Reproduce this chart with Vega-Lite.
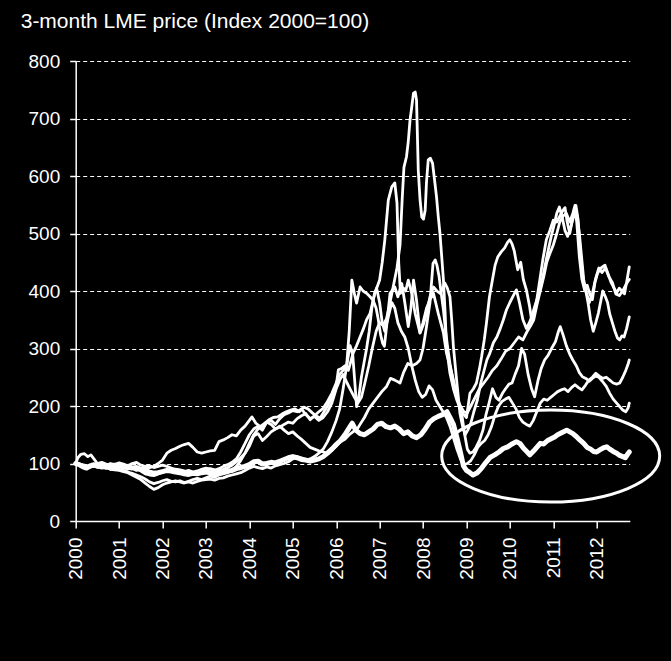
{"$schema":"https://vega.github.io/schema/vega-lite/v6.json","width":554,"height":460,"autosize":"none","padding":{"left":75.7,"top":61,"right":41.3,"bottom":140},"background":"black","config":{"view":{"stroke":null},"font":"Liberation Sans"},
"title":{"text":"3-month LME price (Index 2000=100)","anchor":"start","frame":"group","dx":-55,"offset":20,"fontSize":21,"fontWeight":"normal","font":"Liberation Sans","color":"white"},
"datasets":{
"ell":[{"t":2010.94,"v":113}],
"lines":[
{"m":"Al","t":2000.0,"v":100},{"m":"Al","t":2000.08,"v":98},{"m":"Al","t":2000.17,"v":94},{"m":"Al","t":2000.25,"v":92},{"m":"Al","t":2000.33,"v":96},{"m":"Al","t":2000.42,"v":98},{"m":"Al","t":2000.5,"v":95},{"m":"Al","t":2000.6,"v":97},{"m":"Al","t":2000.7,"v":94},{"m":"Al","t":2000.8,"v":96},{"m":"Al","t":2000.9,"v":97},{"m":"Al","t":2001.0,"v":96},{"m":"Al","t":2001.1,"v":94},{"m":"Al","t":2001.2,"v":95},{"m":"Al","t":2001.3,"v":92},{"m":"Al","t":2001.4,"v":93},{"m":"Al","t":2001.5,"v":90},{"m":"Al","t":2001.6,"v":88},{"m":"Al","t":2001.7,"v":85},{"m":"Al","t":2001.8,"v":83},{"m":"Al","t":2001.9,"v":84},{"m":"Al","t":2002.0,"v":86},{"m":"Al","t":2002.1,"v":88},{"m":"Al","t":2002.2,"v":87},{"m":"Al","t":2002.3,"v":85},{"m":"Al","t":2002.4,"v":84},{"m":"Al","t":2002.5,"v":82},{"m":"Al","t":2002.6,"v":81},{"m":"Al","t":2002.7,"v":83},{"m":"Al","t":2002.8,"v":82},{"m":"Al","t":2002.9,"v":84},{"m":"Al","t":2003.0,"v":85},{"m":"Al","t":2003.1,"v":84},{"m":"Al","t":2003.2,"v":82},{"m":"Al","t":2003.3,"v":84},{"m":"Al","t":2003.4,"v":86},{"m":"Al","t":2003.5,"v":87},{"m":"Al","t":2003.6,"v":88},{"m":"Al","t":2003.7,"v":91},{"m":"Al","t":2003.8,"v":93},{"m":"Al","t":2003.9,"v":95},{"m":"Al","t":2004.0,"v":98},{"m":"Al","t":2004.1,"v":103},{"m":"Al","t":2004.2,"v":104},{"m":"Al","t":2004.3,"v":99},{"m":"Al","t":2004.4,"v":100},{"m":"Al","t":2004.5,"v":102},{"m":"Al","t":2004.6,"v":101},{"m":"Al","t":2004.7,"v":104},{"m":"Al","t":2004.8,"v":107},{"m":"Al","t":2004.9,"v":110},{"m":"Al","t":2005.0,"v":112},{"m":"Al","t":2005.1,"v":110},{"m":"Al","t":2005.2,"v":107},{"m":"Al","t":2005.3,"v":106},{"m":"Al","t":2005.4,"v":104},{"m":"Al","t":2005.5,"v":106},{"m":"Al","t":2005.6,"v":108},{"m":"Al","t":2005.7,"v":112},{"m":"Al","t":2005.8,"v":118},{"m":"Al","t":2005.9,"v":125},{"m":"Al","t":2006.0,"v":133},{"m":"Al","t":2006.1,"v":140},{"m":"Al","t":2006.2,"v":150},{"m":"Al","t":2006.3,"v":162},{"m":"Al","t":2006.37,"v":170},{"m":"Al","t":2006.45,"v":158},{"m":"Al","t":2006.55,"v":152},{"m":"Al","t":2006.65,"v":150},{"m":"Al","t":2006.75,"v":155},{"m":"Al","t":2006.85,"v":160},{"m":"Al","t":2006.95,"v":168},{"m":"Al","t":2007.05,"v":170},{"m":"Al","t":2007.15,"v":164},{"m":"Al","t":2007.25,"v":162},{"m":"Al","t":2007.35,"v":165},{"m":"Al","t":2007.45,"v":160},{"m":"Al","t":2007.55,"v":152},{"m":"Al","t":2007.65,"v":155},{"m":"Al","t":2007.75,"v":148},{"m":"Al","t":2007.85,"v":145},{"m":"Al","t":2007.95,"v":150},{"m":"Al","t":2008.05,"v":160},{"m":"Al","t":2008.15,"v":172},{"m":"Al","t":2008.25,"v":178},{"m":"Al","t":2008.35,"v":182},{"m":"Al","t":2008.45,"v":185},{"m":"Al","t":2008.55,"v":190},{"m":"Al","t":2008.62,"v":180},{"m":"Al","t":2008.7,"v":168},{"m":"Al","t":2008.78,"v":145},{"m":"Al","t":2008.86,"v":120},{"m":"Al","t":2008.93,"v":96},{"m":"Al","t":2009.0,"v":88},{"m":"Al","t":2009.08,"v":84},{"m":"Al","t":2009.15,"v":80},{"m":"Al","t":2009.25,"v":84},{"m":"Al","t":2009.35,"v":92},{"m":"Al","t":2009.45,"v":102},{"m":"Al","t":2009.55,"v":111},{"m":"Al","t":2009.65,"v":115},{"m":"Al","t":2009.75,"v":120},{"m":"Al","t":2009.85,"v":126},{"m":"Al","t":2009.95,"v":129},{"m":"Al","t":2010.05,"v":134},{"m":"Al","t":2010.15,"v":138},{"m":"Al","t":2010.23,"v":135},{"m":"Al","t":2010.32,"v":126},{"m":"Al","t":2010.4,"v":120},{"m":"Al","t":2010.46,"v":115},{"m":"Al","t":2010.55,"v":122},{"m":"Al","t":2010.62,"v":128},{"m":"Al","t":2010.7,"v":135},{"m":"Al","t":2010.78,"v":134},{"m":"Al","t":2010.87,"v":140},{"m":"Al","t":2010.95,"v":143},{"m":"Al","t":2011.03,"v":146},{"m":"Al","t":2011.1,"v":150},{"m":"Al","t":2011.18,"v":153},{"m":"Al","t":2011.26,"v":156},{"m":"Al","t":2011.31,"v":158},{"m":"Al","t":2011.38,"v":155},{"m":"Al","t":2011.45,"v":152},{"m":"Al","t":2011.53,"v":147},{"m":"Al","t":2011.61,"v":141},{"m":"Al","t":2011.7,"v":135},{"m":"Al","t":2011.78,"v":128},{"m":"Al","t":2011.86,"v":125},{"m":"Al","t":2011.93,"v":121},{"m":"Al","t":2012.0,"v":120},{"m":"Al","t":2012.08,"v":124},{"m":"Al","t":2012.15,"v":127},{"m":"Al","t":2012.23,"v":129},{"m":"Al","t":2012.3,"v":125},{"m":"Al","t":2012.38,"v":121},{"m":"Al","t":2012.46,"v":118},{"m":"Al","t":2012.53,"v":114},{"m":"Al","t":2012.6,"v":112},{"m":"Al","t":2012.66,"v":110},{"m":"Al","t":2012.71,"v":116},{"m":"Al","t":2012.75,"v":120},
{"m":"Ni","t":2000.0,"v":100},{"m":"Ni","t":2000.05,"v":110},{"m":"Ni","t":2000.12,"v":116},{"m":"Ni","t":2000.2,"v":117},{"m":"Ni","t":2000.28,"v":112},{"m":"Ni","t":2000.35,"v":115},{"m":"Ni","t":2000.42,"v":108},{"m":"Ni","t":2000.5,"v":100},{"m":"Ni","t":2000.6,"v":96},{"m":"Ni","t":2000.7,"v":93},{"m":"Ni","t":2000.8,"v":90},{"m":"Ni","t":2000.9,"v":92},{"m":"Ni","t":2001.0,"v":95},{"m":"Ni","t":2001.1,"v":93},{"m":"Ni","t":2001.2,"v":90},{"m":"Ni","t":2001.3,"v":92},{"m":"Ni","t":2001.4,"v":88},{"m":"Ni","t":2001.5,"v":90},{"m":"Ni","t":2001.6,"v":92},{"m":"Ni","t":2001.7,"v":93},{"m":"Ni","t":2001.8,"v":95},{"m":"Ni","t":2001.9,"v":100},{"m":"Ni","t":2002.0,"v":106},{"m":"Ni","t":2002.1,"v":118},{"m":"Ni","t":2002.2,"v":123},{"m":"Ni","t":2002.3,"v":126},{"m":"Ni","t":2002.4,"v":130},{"m":"Ni","t":2002.5,"v":133},{"m":"Ni","t":2002.6,"v":135},{"m":"Ni","t":2002.7,"v":128},{"m":"Ni","t":2002.8,"v":120},{"m":"Ni","t":2002.9,"v":118},{"m":"Ni","t":2003.0,"v":120},{"m":"Ni","t":2003.1,"v":122},{"m":"Ni","t":2003.2,"v":123},{"m":"Ni","t":2003.3,"v":138},{"m":"Ni","t":2003.4,"v":141},{"m":"Ni","t":2003.5,"v":145},{"m":"Ni","t":2003.6,"v":150},{"m":"Ni","t":2003.7,"v":148},{"m":"Ni","t":2003.8,"v":158},{"m":"Ni","t":2003.9,"v":165},{"m":"Ni","t":2004.0,"v":175},{"m":"Ni","t":2004.06,"v":181},{"m":"Ni","t":2004.15,"v":170},{"m":"Ni","t":2004.25,"v":164},{"m":"Ni","t":2004.35,"v":170},{"m":"Ni","t":2004.45,"v":176},{"m":"Ni","t":2004.55,"v":180},{"m":"Ni","t":2004.65,"v":181},{"m":"Ni","t":2004.75,"v":186},{"m":"Ni","t":2004.85,"v":190},{"m":"Ni","t":2004.95,"v":193},{"m":"Ni","t":2005.05,"v":195},{"m":"Ni","t":2005.15,"v":190},{"m":"Ni","t":2005.25,"v":198},{"m":"Ni","t":2005.35,"v":195},{"m":"Ni","t":2005.45,"v":188},{"m":"Ni","t":2005.55,"v":182},{"m":"Ni","t":2005.63,"v":179},{"m":"Ni","t":2005.72,"v":190},{"m":"Ni","t":2005.8,"v":200},{"m":"Ni","t":2005.9,"v":215},{"m":"Ni","t":2006.0,"v":235},{"m":"Ni","t":2006.05,"v":263},{"m":"Ni","t":2006.12,"v":265},{"m":"Ni","t":2006.2,"v":270},{"m":"Ni","t":2006.28,"v":262},{"m":"Ni","t":2006.39,"v":292},{"m":"Ni","t":2006.47,"v":305},{"m":"Ni","t":2006.55,"v":320},{"m":"Ni","t":2006.63,"v":335},{"m":"Ni","t":2006.7,"v":350},{"m":"Ni","t":2006.78,"v":361},{"m":"Ni","t":2006.89,"v":396},{"m":"Ni","t":2007.0,"v":419},{"m":"Ni","t":2007.06,"v":450},{"m":"Ni","t":2007.12,"v":489},{"m":"Ni","t":2007.2,"v":558},{"m":"Ni","t":2007.28,"v":581},{"m":"Ni","t":2007.35,"v":588},{"m":"Ni","t":2007.4,"v":553},{"m":"Ni","t":2007.44,"v":449},{"m":"Ni","t":2007.48,"v":396},{"m":"Ni","t":2007.55,"v":405},{"m":"Ni","t":2007.6,"v":400},{"m":"Ni","t":2007.66,"v":419},{"m":"Ni","t":2007.74,"v":396},{"m":"Ni","t":2007.82,"v":360},{"m":"Ni","t":2007.93,"v":327},{"m":"Ni","t":2008.0,"v":345},{"m":"Ni","t":2008.08,"v":370},{"m":"Ni","t":2008.16,"v":385},{"m":"Ni","t":2008.24,"v":396},{"m":"Ni","t":2008.35,"v":361},{"m":"Ni","t":2008.47,"v":327},{"m":"Ni","t":2008.54,"v":292},{"m":"Ni","t":2008.62,"v":270},{"m":"Ni","t":2008.7,"v":245},{"m":"Ni","t":2008.8,"v":210},{"m":"Ni","t":2008.89,"v":187},{"m":"Ni","t":2008.96,"v":150},{"m":"Ni","t":2009.02,"v":125},{"m":"Ni","t":2009.08,"v":118},{"m":"Ni","t":2009.15,"v":120},{"m":"Ni","t":2009.22,"v":128},{"m":"Ni","t":2009.3,"v":140},{"m":"Ni","t":2009.38,"v":158},{"m":"Ni","t":2009.45,"v":185},{"m":"Ni","t":2009.52,"v":205},{"m":"Ni","t":2009.6,"v":230},{"m":"Ni","t":2009.68,"v":215},{"m":"Ni","t":2009.75,"v":210},{"m":"Ni","t":2009.83,"v":222},{"m":"Ni","t":2009.9,"v":230},{"m":"Ni","t":2009.98,"v":238},{"m":"Ni","t":2010.05,"v":240},{"m":"Ni","t":2010.12,"v":255},{"m":"Ni","t":2010.2,"v":270},{"m":"Ni","t":2010.27,"v":300},{"m":"Ni","t":2010.34,"v":290},{"m":"Ni","t":2010.42,"v":255},{"m":"Ni","t":2010.5,"v":230},{"m":"Ni","t":2010.57,"v":216},{"m":"Ni","t":2010.65,"v":245},{"m":"Ni","t":2010.72,"v":265},{"m":"Ni","t":2010.8,"v":280},{"m":"Ni","t":2010.88,"v":288},{"m":"Ni","t":2010.96,"v":300},{"m":"Ni","t":2011.05,"v":312},{"m":"Ni","t":2011.12,"v":330},{"m":"Ni","t":2011.16,"v":338},{"m":"Ni","t":2011.22,"v":325},{"m":"Ni","t":2011.3,"v":305},{"m":"Ni","t":2011.38,"v":290},{"m":"Ni","t":2011.45,"v":280},{"m":"Ni","t":2011.53,"v":270},{"m":"Ni","t":2011.6,"v":258},{"m":"Ni","t":2011.67,"v":251},{"m":"Ni","t":2011.75,"v":248},{"m":"Ni","t":2011.83,"v":243},{"m":"Ni","t":2011.9,"v":248},{"m":"Ni","t":2011.97,"v":252},{"m":"Ni","t":2012.05,"v":250},{"m":"Ni","t":2012.13,"v":243},{"m":"Ni","t":2012.22,"v":234},{"m":"Ni","t":2012.3,"v":222},{"m":"Ni","t":2012.38,"v":212},{"m":"Ni","t":2012.46,"v":205},{"m":"Ni","t":2012.54,"v":198},{"m":"Ni","t":2012.6,"v":193},{"m":"Ni","t":2012.67,"v":190},{"m":"Ni","t":2012.72,"v":196},{"m":"Ni","t":2012.75,"v":205},
{"m":"Pb","t":2000.0,"v":100},{"m":"Pb","t":2000.1,"v":97},{"m":"Pb","t":2000.2,"v":95},{"m":"Pb","t":2000.3,"v":93},{"m":"Pb","t":2000.4,"v":96},{"m":"Pb","t":2000.5,"v":98},{"m":"Pb","t":2000.6,"v":95},{"m":"Pb","t":2000.7,"v":97},{"m":"Pb","t":2000.8,"v":100},{"m":"Pb","t":2000.9,"v":98},{"m":"Pb","t":2001.0,"v":101},{"m":"Pb","t":2001.1,"v":99},{"m":"Pb","t":2001.2,"v":96},{"m":"Pb","t":2001.3,"v":100},{"m":"Pb","t":2001.4,"v":102},{"m":"Pb","t":2001.5,"v":97},{"m":"Pb","t":2001.6,"v":95},{"m":"Pb","t":2001.7,"v":96},{"m":"Pb","t":2001.8,"v":93},{"m":"Pb","t":2001.9,"v":95},{"m":"Pb","t":2002.0,"v":97},{"m":"Pb","t":2002.1,"v":95},{"m":"Pb","t":2002.2,"v":92},{"m":"Pb","t":2002.3,"v":90},{"m":"Pb","t":2002.4,"v":88},{"m":"Pb","t":2002.5,"v":86},{"m":"Pb","t":2002.6,"v":88},{"m":"Pb","t":2002.7,"v":85},{"m":"Pb","t":2002.8,"v":87},{"m":"Pb","t":2002.9,"v":90},{"m":"Pb","t":2003.0,"v":92},{"m":"Pb","t":2003.1,"v":90},{"m":"Pb","t":2003.2,"v":88},{"m":"Pb","t":2003.3,"v":91},{"m":"Pb","t":2003.4,"v":95},{"m":"Pb","t":2003.5,"v":98},{"m":"Pb","t":2003.6,"v":102},{"m":"Pb","t":2003.7,"v":108},{"m":"Pb","t":2003.8,"v":120},{"m":"Pb","t":2003.9,"v":135},{"m":"Pb","t":2004.0,"v":150},{"m":"Pb","t":2004.1,"v":160},{"m":"Pb","t":2004.2,"v":165},{"m":"Pb","t":2004.3,"v":158},{"m":"Pb","t":2004.4,"v":172},{"m":"Pb","t":2004.5,"v":175},{"m":"Pb","t":2004.6,"v":168},{"m":"Pb","t":2004.7,"v":178},{"m":"Pb","t":2004.8,"v":185},{"m":"Pb","t":2004.9,"v":188},{"m":"Pb","t":2005.0,"v":192},{"m":"Pb","t":2005.1,"v":190},{"m":"Pb","t":2005.2,"v":195},{"m":"Pb","t":2005.3,"v":185},{"m":"Pb","t":2005.4,"v":178},{"m":"Pb","t":2005.5,"v":182},{"m":"Pb","t":2005.6,"v":175},{"m":"Pb","t":2005.7,"v":180},{"m":"Pb","t":2005.8,"v":190},{"m":"Pb","t":2005.9,"v":205},{"m":"Pb","t":2006.0,"v":230},{"m":"Pb","t":2006.08,"v":245},{"m":"Pb","t":2006.16,"v":255},{"m":"Pb","t":2006.25,"v":240},{"m":"Pb","t":2006.33,"v":228},{"m":"Pb","t":2006.42,"v":215},{"m":"Pb","t":2006.5,"v":205},{"m":"Pb","t":2006.58,"v":215},{"m":"Pb","t":2006.66,"v":240},{"m":"Pb","t":2006.75,"v":270},{"m":"Pb","t":2006.83,"v":300},{"m":"Pb","t":2006.92,"v":330},{"m":"Pb","t":2007.0,"v":345},{"m":"Pb","t":2007.08,"v":340},{"m":"Pb","t":2007.16,"v":352},{"m":"Pb","t":2007.24,"v":380},{"m":"Pb","t":2007.32,"v":410},{"m":"Pb","t":2007.4,"v":440},{"m":"Pb","t":2007.47,"v":480},{"m":"Pb","t":2007.52,"v":560},{"m":"Pb","t":2007.56,"v":615},{"m":"Pb","t":2007.62,"v":634},{"m":"Pb","t":2007.66,"v":660},{"m":"Pb","t":2007.7,"v":697},{"m":"Pb","t":2007.74,"v":720},{"m":"Pb","t":2007.78,"v":744},{"m":"Pb","t":2007.82,"v":746},{"m":"Pb","t":2007.85,"v":732},{"m":"Pb","t":2007.89,"v":610},{"m":"Pb","t":2007.93,"v":560},{"m":"Pb","t":2007.97,"v":529},{"m":"Pb","t":2008.01,"v":525},{"m":"Pb","t":2008.05,"v":541},{"m":"Pb","t":2008.08,"v":590},{"m":"Pb","t":2008.12,"v":628},{"m":"Pb","t":2008.17,"v":631},{"m":"Pb","t":2008.22,"v":622},{"m":"Pb","t":2008.27,"v":590},{"m":"Pb","t":2008.31,"v":564},{"m":"Pb","t":2008.35,"v":530},{"m":"Pb","t":2008.39,"v":500},{"m":"Pb","t":2008.43,"v":460},{"m":"Pb","t":2008.47,"v":419},{"m":"Pb","t":2008.51,"v":360},{"m":"Pb","t":2008.54,"v":303},{"m":"Pb","t":2008.62,"v":257},{"m":"Pb","t":2008.7,"v":230},{"m":"Pb","t":2008.78,"v":210},{"m":"Pb","t":2008.86,"v":195},{"m":"Pb","t":2008.94,"v":185},{"m":"Pb","t":2009.0,"v":180},{"m":"Pb","t":2009.08,"v":222},{"m":"Pb","t":2009.16,"v":230},{"m":"Pb","t":2009.23,"v":240},{"m":"Pb","t":2009.3,"v":265},{"m":"Pb","t":2009.35,"v":286},{"m":"Pb","t":2009.41,"v":315},{"m":"Pb","t":2009.46,"v":344},{"m":"Pb","t":2009.53,"v":390},{"m":"Pb","t":2009.6,"v":420},{"m":"Pb","t":2009.66,"v":445},{"m":"Pb","t":2009.72,"v":459},{"m":"Pb","t":2009.8,"v":468},{"m":"Pb","t":2009.88,"v":475},{"m":"Pb","t":2009.95,"v":485},{"m":"Pb","t":2010.0,"v":489},{"m":"Pb","t":2010.05,"v":482},{"m":"Pb","t":2010.1,"v":470},{"m":"Pb","t":2010.18,"v":437},{"m":"Pb","t":2010.25,"v":450},{"m":"Pb","t":2010.31,"v":420},{"m":"Pb","t":2010.38,"v":402},{"m":"Pb","t":2010.45,"v":375},{"m":"Pb","t":2010.5,"v":350},{"m":"Pb","t":2010.56,"v":365},{"m":"Pb","t":2010.62,"v":385},{"m":"Pb","t":2010.69,"v":419},{"m":"Pb","t":2010.76,"v":455},{"m":"Pb","t":2010.84,"v":489},{"m":"Pb","t":2010.92,"v":505},{"m":"Pb","t":2011.0,"v":523},{"m":"Pb","t":2011.08,"v":520},{"m":"Pb","t":2011.15,"v":530},{"m":"Pb","t":2011.22,"v":540},{"m":"Pb","t":2011.27,"v":545},{"m":"Pb","t":2011.32,"v":520},{"m":"Pb","t":2011.38,"v":500},{"m":"Pb","t":2011.44,"v":525},{"m":"Pb","t":2011.5,"v":540},{"m":"Pb","t":2011.54,"v":520},{"m":"Pb","t":2011.6,"v":460},{"m":"Pb","t":2011.66,"v":420},{"m":"Pb","t":2011.72,"v":402},{"m":"Pb","t":2011.78,"v":410},{"m":"Pb","t":2011.84,"v":395},{"m":"Pb","t":2011.9,"v":385},{"m":"Pb","t":2011.96,"v":415},{"m":"Pb","t":2012.02,"v":431},{"m":"Pb","t":2012.1,"v":440},{"m":"Pb","t":2012.19,"v":445},{"m":"Pb","t":2012.26,"v":430},{"m":"Pb","t":2012.33,"v":415},{"m":"Pb","t":2012.4,"v":405},{"m":"Pb","t":2012.46,"v":397},{"m":"Pb","t":2012.52,"v":405},{"m":"Pb","t":2012.58,"v":400},{"m":"Pb","t":2012.64,"v":395},{"m":"Pb","t":2012.7,"v":420},{"m":"Pb","t":2012.75,"v":442},
{"m":"Cu","t":2000.0,"v":100},{"m":"Cu","t":2000.1,"v":96},{"m":"Cu","t":2000.2,"v":94},{"m":"Cu","t":2000.3,"v":93},{"m":"Cu","t":2000.4,"v":97},{"m":"Cu","t":2000.5,"v":100},{"m":"Cu","t":2000.6,"v":102},{"m":"Cu","t":2000.7,"v":99},{"m":"Cu","t":2000.8,"v":97},{"m":"Cu","t":2000.9,"v":98},{"m":"Cu","t":2001.0,"v":96},{"m":"Cu","t":2001.1,"v":95},{"m":"Cu","t":2001.2,"v":93},{"m":"Cu","t":2001.3,"v":92},{"m":"Cu","t":2001.4,"v":90},{"m":"Cu","t":2001.5,"v":87},{"m":"Cu","t":2001.6,"v":82},{"m":"Cu","t":2001.7,"v":80},{"m":"Cu","t":2001.8,"v":79},{"m":"Cu","t":2001.9,"v":82},{"m":"Cu","t":2002.0,"v":85},{"m":"Cu","t":2002.1,"v":87},{"m":"Cu","t":2002.2,"v":88},{"m":"Cu","t":2002.3,"v":90},{"m":"Cu","t":2002.4,"v":89},{"m":"Cu","t":2002.5,"v":87},{"m":"Cu","t":2002.6,"v":84},{"m":"Cu","t":2002.7,"v":83},{"m":"Cu","t":2002.8,"v":85},{"m":"Cu","t":2002.9,"v":87},{"m":"Cu","t":2003.0,"v":90},{"m":"Cu","t":2003.1,"v":91},{"m":"Cu","t":2003.2,"v":89},{"m":"Cu","t":2003.3,"v":88},{"m":"Cu","t":2003.4,"v":90},{"m":"Cu","t":2003.5,"v":93},{"m":"Cu","t":2003.6,"v":97},{"m":"Cu","t":2003.7,"v":103},{"m":"Cu","t":2003.8,"v":110},{"m":"Cu","t":2003.9,"v":118},{"m":"Cu","t":2004.0,"v":130},{"m":"Cu","t":2004.1,"v":148},{"m":"Cu","t":2004.2,"v":152},{"m":"Cu","t":2004.3,"v":140},{"m":"Cu","t":2004.4,"v":147},{"m":"Cu","t":2004.5,"v":155},{"m":"Cu","t":2004.6,"v":160},{"m":"Cu","t":2004.7,"v":163},{"m":"Cu","t":2004.8,"v":168},{"m":"Cu","t":2004.9,"v":172},{"m":"Cu","t":2005.0,"v":170},{"m":"Cu","t":2005.1,"v":178},{"m":"Cu","t":2005.2,"v":183},{"m":"Cu","t":2005.3,"v":187},{"m":"Cu","t":2005.4,"v":176},{"m":"Cu","t":2005.5,"v":183},{"m":"Cu","t":2005.6,"v":190},{"m":"Cu","t":2005.7,"v":196},{"m":"Cu","t":2005.8,"v":208},{"m":"Cu","t":2005.9,"v":222},{"m":"Cu","t":2006.0,"v":240},{"m":"Cu","t":2006.08,"v":255},{"m":"Cu","t":2006.16,"v":262},{"m":"Cu","t":2006.24,"v":270},{"m":"Cu","t":2006.3,"v":330},{"m":"Cu","t":2006.36,"v":419},{"m":"Cu","t":2006.42,"v":395},{"m":"Cu","t":2006.47,"v":379},{"m":"Cu","t":2006.55,"v":407},{"m":"Cu","t":2006.62,"v":400},{"m":"Cu","t":2006.7,"v":396},{"m":"Cu","t":2006.78,"v":390},{"m":"Cu","t":2006.85,"v":384},{"m":"Cu","t":2006.92,"v":370},{"m":"Cu","t":2006.97,"v":350},{"m":"Cu","t":2007.02,"v":325},{"m":"Cu","t":2007.07,"v":309},{"m":"Cu","t":2007.11,"v":304},{"m":"Cu","t":2007.16,"v":338},{"m":"Cu","t":2007.24,"v":396},{"m":"Cu","t":2007.3,"v":402},{"m":"Cu","t":2007.35,"v":407},{"m":"Cu","t":2007.42,"v":390},{"m":"Cu","t":2007.51,"v":413},{"m":"Cu","t":2007.58,"v":380},{"m":"Cu","t":2007.66,"v":338},{"m":"Cu","t":2007.72,"v":370},{"m":"Cu","t":2007.78,"v":419},{"m":"Cu","t":2007.85,"v":384},{"m":"Cu","t":2007.93,"v":327},{"m":"Cu","t":2008.0,"v":340},{"m":"Cu","t":2008.08,"v":361},{"m":"Cu","t":2008.16,"v":390},{"m":"Cu","t":2008.24,"v":407},{"m":"Cu","t":2008.32,"v":400},{"m":"Cu","t":2008.39,"v":396},{"m":"Cu","t":2008.45,"v":405},{"m":"Cu","t":2008.5,"v":414},{"m":"Cu","t":2008.56,"v":405},{"m":"Cu","t":2008.62,"v":390},{"m":"Cu","t":2008.66,"v":350},{"m":"Cu","t":2008.7,"v":303},{"m":"Cu","t":2008.78,"v":240},{"m":"Cu","t":2008.85,"v":187},{"m":"Cu","t":2008.91,"v":165},{"m":"Cu","t":2008.97,"v":150},{"m":"Cu","t":2009.03,"v":158},{"m":"Cu","t":2009.1,"v":170},{"m":"Cu","t":2009.17,"v":190},{"m":"Cu","t":2009.25,"v":210},{"m":"Cu","t":2009.33,"v":240},{"m":"Cu","t":2009.4,"v":260},{"m":"Cu","t":2009.47,"v":280},{"m":"Cu","t":2009.54,"v":292},{"m":"Cu","t":2009.62,"v":310},{"m":"Cu","t":2009.7,"v":320},{"m":"Cu","t":2009.78,"v":335},{"m":"Cu","t":2009.85,"v":350},{"m":"Cu","t":2009.92,"v":367},{"m":"Cu","t":2010.0,"v":380},{"m":"Cu","t":2010.08,"v":392},{"m":"Cu","t":2010.15,"v":402},{"m":"Cu","t":2010.22,"v":380},{"m":"Cu","t":2010.3,"v":350},{"m":"Cu","t":2010.38,"v":335},{"m":"Cu","t":2010.45,"v":345},{"m":"Cu","t":2010.5,"v":355},{"m":"Cu","t":2010.58,"v":375},{"m":"Cu","t":2010.65,"v":390},{"m":"Cu","t":2010.72,"v":410},{"m":"Cu","t":2010.8,"v":440},{"m":"Cu","t":2010.88,"v":470},{"m":"Cu","t":2010.95,"v":494},{"m":"Cu","t":2011.02,"v":515},{"m":"Cu","t":2011.08,"v":535},{"m":"Cu","t":2011.14,"v":546},{"m":"Cu","t":2011.2,"v":530},{"m":"Cu","t":2011.27,"v":505},{"m":"Cu","t":2011.33,"v":495},{"m":"Cu","t":2011.4,"v":510},{"m":"Cu","t":2011.47,"v":530},{"m":"Cu","t":2011.52,"v":549},{"m":"Cu","t":2011.57,"v":525},{"m":"Cu","t":2011.62,"v":470},{"m":"Cu","t":2011.67,"v":430},{"m":"Cu","t":2011.72,"v":405},{"m":"Cu","t":2011.77,"v":395},{"m":"Cu","t":2011.83,"v":380},{"m":"Cu","t":2011.9,"v":395},{"m":"Cu","t":2011.97,"v":420},{"m":"Cu","t":2012.05,"v":440},{"m":"Cu","t":2012.12,"v":432},{"m":"Cu","t":2012.2,"v":440},{"m":"Cu","t":2012.28,"v":425},{"m":"Cu","t":2012.36,"v":415},{"m":"Cu","t":2012.44,"v":395},{"m":"Cu","t":2012.52,"v":392},{"m":"Cu","t":2012.6,"v":400},{"m":"Cu","t":2012.68,"v":412},{"m":"Cu","t":2012.75,"v":420},
{"m":"Sn","t":2000.0,"v":100},{"m":"Sn","t":2000.1,"v":99},{"m":"Sn","t":2000.2,"v":97},{"m":"Sn","t":2000.3,"v":95},{"m":"Sn","t":2000.4,"v":96},{"m":"Sn","t":2000.5,"v":94},{"m":"Sn","t":2000.6,"v":92},{"m":"Sn","t":2000.7,"v":93},{"m":"Sn","t":2000.8,"v":90},{"m":"Sn","t":2000.9,"v":89},{"m":"Sn","t":2001.0,"v":88},{"m":"Sn","t":2001.1,"v":86},{"m":"Sn","t":2001.2,"v":84},{"m":"Sn","t":2001.3,"v":80},{"m":"Sn","t":2001.4,"v":76},{"m":"Sn","t":2001.5,"v":72},{"m":"Sn","t":2001.6,"v":66},{"m":"Sn","t":2001.7,"v":60},{"m":"Sn","t":2001.8,"v":55},{"m":"Sn","t":2001.9,"v":58},{"m":"Sn","t":2002.0,"v":63},{"m":"Sn","t":2002.1,"v":66},{"m":"Sn","t":2002.2,"v":68},{"m":"Sn","t":2002.3,"v":70},{"m":"Sn","t":2002.4,"v":68},{"m":"Sn","t":2002.5,"v":66},{"m":"Sn","t":2002.6,"v":69},{"m":"Sn","t":2002.7,"v":72},{"m":"Sn","t":2002.8,"v":74},{"m":"Sn","t":2002.9,"v":72},{"m":"Sn","t":2003.0,"v":75},{"m":"Sn","t":2003.1,"v":78},{"m":"Sn","t":2003.2,"v":76},{"m":"Sn","t":2003.3,"v":80},{"m":"Sn","t":2003.4,"v":82},{"m":"Sn","t":2003.5,"v":84},{"m":"Sn","t":2003.6,"v":88},{"m":"Sn","t":2003.7,"v":95},{"m":"Sn","t":2003.8,"v":105},{"m":"Sn","t":2003.9,"v":118},{"m":"Sn","t":2004.0,"v":135},{"m":"Sn","t":2004.1,"v":150},{"m":"Sn","t":2004.2,"v":160},{"m":"Sn","t":2004.3,"v":165},{"m":"Sn","t":2004.4,"v":172},{"m":"Sn","t":2004.5,"v":168},{"m":"Sn","t":2004.6,"v":160},{"m":"Sn","t":2004.7,"v":165},{"m":"Sn","t":2004.8,"v":158},{"m":"Sn","t":2004.9,"v":152},{"m":"Sn","t":2005.0,"v":155},{"m":"Sn","t":2005.1,"v":148},{"m":"Sn","t":2005.2,"v":142},{"m":"Sn","t":2005.3,"v":135},{"m":"Sn","t":2005.4,"v":128},{"m":"Sn","t":2005.5,"v":125},{"m":"Sn","t":2005.6,"v":122},{"m":"Sn","t":2005.7,"v":120},{"m":"Sn","t":2005.8,"v":118},{"m":"Sn","t":2005.9,"v":123},{"m":"Sn","t":2006.0,"v":130},{"m":"Sn","t":2006.1,"v":138},{"m":"Sn","t":2006.2,"v":142},{"m":"Sn","t":2006.3,"v":150},{"m":"Sn","t":2006.4,"v":156},{"m":"Sn","t":2006.47,"v":158},{"m":"Sn","t":2006.55,"v":168},{"m":"Sn","t":2006.65,"v":180},{"m":"Sn","t":2006.75,"v":195},{"m":"Sn","t":2006.85,"v":205},{"m":"Sn","t":2006.95,"v":215},{"m":"Sn","t":2007.05,"v":225},{"m":"Sn","t":2007.16,"v":234},{"m":"Sn","t":2007.25,"v":248},{"m":"Sn","t":2007.35,"v":245},{"m":"Sn","t":2007.47,"v":240},{"m":"Sn","t":2007.55,"v":258},{"m":"Sn","t":2007.65,"v":274},{"m":"Sn","t":2007.75,"v":270},{"m":"Sn","t":2007.85,"v":274},{"m":"Sn","t":2007.93,"v":280},{"m":"Sn","t":2008.0,"v":300},{"m":"Sn","t":2008.08,"v":338},{"m":"Sn","t":2008.16,"v":380},{"m":"Sn","t":2008.23,"v":448},{"m":"Sn","t":2008.28,"v":454},{"m":"Sn","t":2008.32,"v":445},{"m":"Sn","t":2008.37,"v":425},{"m":"Sn","t":2008.42,"v":395},{"m":"Sn","t":2008.47,"v":367},{"m":"Sn","t":2008.52,"v":330},{"m":"Sn","t":2008.57,"v":300},{"m":"Sn","t":2008.62,"v":274},{"m":"Sn","t":2008.7,"v":240},{"m":"Sn","t":2008.78,"v":215},{"m":"Sn","t":2008.86,"v":200},{"m":"Sn","t":2008.94,"v":190},{"m":"Sn","t":2009.02,"v":188},{"m":"Sn","t":2009.1,"v":200},{"m":"Sn","t":2009.2,"v":215},{"m":"Sn","t":2009.3,"v":230},{"m":"Sn","t":2009.4,"v":240},{"m":"Sn","t":2009.5,"v":250},{"m":"Sn","t":2009.6,"v":262},{"m":"Sn","t":2009.7,"v":270},{"m":"Sn","t":2009.8,"v":282},{"m":"Sn","t":2009.9,"v":295},{"m":"Sn","t":2010.0,"v":300},{"m":"Sn","t":2010.1,"v":310},{"m":"Sn","t":2010.2,"v":320},{"m":"Sn","t":2010.3,"v":315},{"m":"Sn","t":2010.4,"v":330},{"m":"Sn","t":2010.48,"v":340},{"m":"Sn","t":2010.55,"v":350},{"m":"Sn","t":2010.62,"v":375},{"m":"Sn","t":2010.7,"v":400},{"m":"Sn","t":2010.78,"v":425},{"m":"Sn","t":2010.85,"v":450},{"m":"Sn","t":2010.92,"v":465},{"m":"Sn","t":2011.0,"v":480},{"m":"Sn","t":2011.08,"v":500},{"m":"Sn","t":2011.15,"v":520},{"m":"Sn","t":2011.22,"v":530},{"m":"Sn","t":2011.3,"v":535},{"m":"Sn","t":2011.38,"v":520},{"m":"Sn","t":2011.45,"v":535},{"m":"Sn","t":2011.5,"v":549},{"m":"Sn","t":2011.55,"v":530},{"m":"Sn","t":2011.6,"v":500},{"m":"Sn","t":2011.65,"v":460},{"m":"Sn","t":2011.7,"v":420},{"m":"Sn","t":2011.75,"v":400},{"m":"Sn","t":2011.8,"v":380},{"m":"Sn","t":2011.86,"v":350},{"m":"Sn","t":2011.92,"v":330},{"m":"Sn","t":2011.98,"v":345},{"m":"Sn","t":2012.04,"v":362},{"m":"Sn","t":2012.1,"v":385},{"m":"Sn","t":2012.14,"v":400},{"m":"Sn","t":2012.2,"v":390},{"m":"Sn","t":2012.25,"v":380},{"m":"Sn","t":2012.3,"v":360},{"m":"Sn","t":2012.36,"v":345},{"m":"Sn","t":2012.42,"v":330},{"m":"Sn","t":2012.48,"v":318},{"m":"Sn","t":2012.53,"v":315},{"m":"Sn","t":2012.58,"v":322},{"m":"Sn","t":2012.63,"v":320},{"m":"Sn","t":2012.69,"v":335},{"m":"Sn","t":2012.75,"v":355},
{"m":"Zn","t":2000.0,"v":100},{"m":"Zn","t":2000.1,"v":98},{"m":"Zn","t":2000.2,"v":96},{"m":"Zn","t":2000.3,"v":93},{"m":"Zn","t":2000.4,"v":95},{"m":"Zn","t":2000.5,"v":97},{"m":"Zn","t":2000.6,"v":94},{"m":"Zn","t":2000.7,"v":92},{"m":"Zn","t":2000.8,"v":94},{"m":"Zn","t":2000.9,"v":91},{"m":"Zn","t":2001.0,"v":90},{"m":"Zn","t":2001.1,"v":88},{"m":"Zn","t":2001.2,"v":85},{"m":"Zn","t":2001.3,"v":83},{"m":"Zn","t":2001.4,"v":80},{"m":"Zn","t":2001.5,"v":77},{"m":"Zn","t":2001.6,"v":73},{"m":"Zn","t":2001.7,"v":68},{"m":"Zn","t":2001.8,"v":65},{"m":"Zn","t":2001.9,"v":67},{"m":"Zn","t":2002.0,"v":70},{"m":"Zn","t":2002.1,"v":72},{"m":"Zn","t":2002.2,"v":69},{"m":"Zn","t":2002.3,"v":68},{"m":"Zn","t":2002.4,"v":70},{"m":"Zn","t":2002.5,"v":67},{"m":"Zn","t":2002.6,"v":68},{"m":"Zn","t":2002.7,"v":66},{"m":"Zn","t":2002.8,"v":69},{"m":"Zn","t":2002.9,"v":71},{"m":"Zn","t":2003.0,"v":72},{"m":"Zn","t":2003.1,"v":73},{"m":"Zn","t":2003.2,"v":71},{"m":"Zn","t":2003.3,"v":74},{"m":"Zn","t":2003.4,"v":75},{"m":"Zn","t":2003.5,"v":78},{"m":"Zn","t":2003.6,"v":80},{"m":"Zn","t":2003.7,"v":82},{"m":"Zn","t":2003.8,"v":84},{"m":"Zn","t":2003.9,"v":88},{"m":"Zn","t":2004.0,"v":92},{"m":"Zn","t":2004.1,"v":95},{"m":"Zn","t":2004.2,"v":93},{"m":"Zn","t":2004.3,"v":91},{"m":"Zn","t":2004.4,"v":94},{"m":"Zn","t":2004.5,"v":92},{"m":"Zn","t":2004.6,"v":96},{"m":"Zn","t":2004.7,"v":98},{"m":"Zn","t":2004.8,"v":100},{"m":"Zn","t":2004.9,"v":103},{"m":"Zn","t":2005.0,"v":108},{"m":"Zn","t":2005.1,"v":112},{"m":"Zn","t":2005.2,"v":110},{"m":"Zn","t":2005.3,"v":106},{"m":"Zn","t":2005.4,"v":108},{"m":"Zn","t":2005.5,"v":112},{"m":"Zn","t":2005.6,"v":118},{"m":"Zn","t":2005.7,"v":125},{"m":"Zn","t":2005.8,"v":138},{"m":"Zn","t":2005.9,"v":155},{"m":"Zn","t":2006.0,"v":175},{"m":"Zn","t":2006.08,"v":195},{"m":"Zn","t":2006.16,"v":230},{"m":"Zn","t":2006.24,"v":270},{"m":"Zn","t":2006.32,"v":305},{"m":"Zn","t":2006.38,"v":290},{"m":"Zn","t":2006.43,"v":240},{"m":"Zn","t":2006.47,"v":199},{"m":"Zn","t":2006.52,"v":215},{"m":"Zn","t":2006.58,"v":250},{"m":"Zn","t":2006.64,"v":275},{"m":"Zn","t":2006.7,"v":300},{"m":"Zn","t":2006.76,"v":330},{"m":"Zn","t":2006.82,"v":370},{"m":"Zn","t":2006.88,"v":395},{"m":"Zn","t":2006.93,"v":405},{"m":"Zn","t":2007.0,"v":380},{"m":"Zn","t":2007.06,"v":345},{"m":"Zn","t":2007.12,"v":330},{"m":"Zn","t":2007.2,"v":355},{"m":"Zn","t":2007.28,"v":380},{"m":"Zn","t":2007.35,"v":370},{"m":"Zn","t":2007.42,"v":345},{"m":"Zn","t":2007.5,"v":330},{"m":"Zn","t":2007.58,"v":320},{"m":"Zn","t":2007.66,"v":300},{"m":"Zn","t":2007.74,"v":270},{"m":"Zn","t":2007.82,"v":245},{"m":"Zn","t":2007.9,"v":225},{"m":"Zn","t":2007.98,"v":215},{"m":"Zn","t":2008.06,"v":220},{"m":"Zn","t":2008.14,"v":235},{"m":"Zn","t":2008.22,"v":228},{"m":"Zn","t":2008.3,"v":210},{"m":"Zn","t":2008.38,"v":200},{"m":"Zn","t":2008.46,"v":190},{"m":"Zn","t":2008.54,"v":180},{"m":"Zn","t":2008.62,"v":165},{"m":"Zn","t":2008.7,"v":145},{"m":"Zn","t":2008.78,"v":125},{"m":"Zn","t":2008.86,"v":108},{"m":"Zn","t":2008.94,"v":98},{"m":"Zn","t":2009.02,"v":100},{"m":"Zn","t":2009.1,"v":105},{"m":"Zn","t":2009.18,"v":115},{"m":"Zn","t":2009.26,"v":128},{"m":"Zn","t":2009.34,"v":135},{"m":"Zn","t":2009.42,"v":140},{"m":"Zn","t":2009.5,"v":150},{"m":"Zn","t":2009.58,"v":165},{"m":"Zn","t":2009.66,"v":185},{"m":"Zn","t":2009.74,"v":200},{"m":"Zn","t":2009.82,"v":208},{"m":"Zn","t":2009.9,"v":212},{"m":"Zn","t":2009.98,"v":215},{"m":"Zn","t":2010.06,"v":205},{"m":"Zn","t":2010.14,"v":195},{"m":"Zn","t":2010.22,"v":180},{"m":"Zn","t":2010.3,"v":172},{"m":"Zn","t":2010.38,"v":168},{"m":"Zn","t":2010.46,"v":165},{"m":"Zn","t":2010.54,"v":175},{"m":"Zn","t":2010.62,"v":190},{"m":"Zn","t":2010.7,"v":205},{"m":"Zn","t":2010.78,"v":212},{"m":"Zn","t":2010.86,"v":210},{"m":"Zn","t":2010.94,"v":215},{"m":"Zn","t":2011.02,"v":220},{"m":"Zn","t":2011.1,"v":225},{"m":"Zn","t":2011.18,"v":228},{"m":"Zn","t":2011.26,"v":230},{"m":"Zn","t":2011.34,"v":225},{"m":"Zn","t":2011.42,"v":232},{"m":"Zn","t":2011.5,"v":237},{"m":"Zn","t":2011.58,"v":232},{"m":"Zn","t":2011.66,"v":228},{"m":"Zn","t":2011.74,"v":236},{"m":"Zn","t":2011.82,"v":245},{"m":"Zn","t":2011.9,"v":250},{"m":"Zn","t":2011.98,"v":257},{"m":"Zn","t":2012.06,"v":252},{"m":"Zn","t":2012.14,"v":248},{"m":"Zn","t":2012.22,"v":250},{"m":"Zn","t":2012.3,"v":245},{"m":"Zn","t":2012.38,"v":240},{"m":"Zn","t":2012.46,"v":238},{"m":"Zn","t":2012.53,"v":240},{"m":"Zn","t":2012.6,"v":250},{"m":"Zn","t":2012.67,"v":262},{"m":"Zn","t":2012.72,"v":272},{"m":"Zn","t":2012.75,"v":280}
]},
"encoding":{
"x":{"field":"t","type":"quantitative","scale":{"domain":[2000,2012.76],"nice":false,"zero":false},"axis":{"title":null,"values":[2000,2001,2002,2003,2004,2005,2006,2007,2008,2009,2010,2011,2012],"format":"d","labelAngle":270,"labelFontSize":19,"labelFont":"Liberation Sans","labelColor":"white","labelPadding":9,"tickSize":7,"tickColor":"white","tickWidth":1.5,"domainColor":"white","domainWidth":1.5,"grid":false,"labelOverlap":false}},
"y":{"field":"v","type":"quantitative","scale":{"domain":[0,800],"nice":false},"axis":{"title":null,"values":[0,100,200,300,400,500,600,700,800],"labelFontSize":19,"labelFont":"Liberation Sans","labelColor":"white","labelPadding":10,"tickSize":6,"tickColor":"white","tickWidth":1.5,"domainColor":"white","domainWidth":1.5,"grid":true,"gridColor":"white","gridDash":[4,3],"gridWidth":1,"labelOverlap":false}}
},
"layer":[
{"data":{"name":"lines"},"transform":[{"filter":"datum.m !== 'Al'"}],"mark":{"type":"line","color":"white","strokeWidth":2.8,"strokeJoin":"round","strokeCap":"round"},"encoding":{"detail":{"field":"m","type":"nominal"}}},
{"data":{"name":"lines"},"transform":[{"filter":"datum.m === 'Al'"}],"mark":{"type":"line","color":"white","strokeWidth":5,"strokeJoin":"round","strokeCap":"round"},"encoding":{"detail":{"field":"m","type":"nominal"}}},
{"data":{"name":"ell"},"mark":{"type":"point","shape":"M -1 0 A 1 0.422 0 1 1 1 0 A 1 0.422 0 1 1 -1 0 Z","size":47524,"filled":false,"stroke":"white","strokeWidth":3,"opacity":1}}
]}
